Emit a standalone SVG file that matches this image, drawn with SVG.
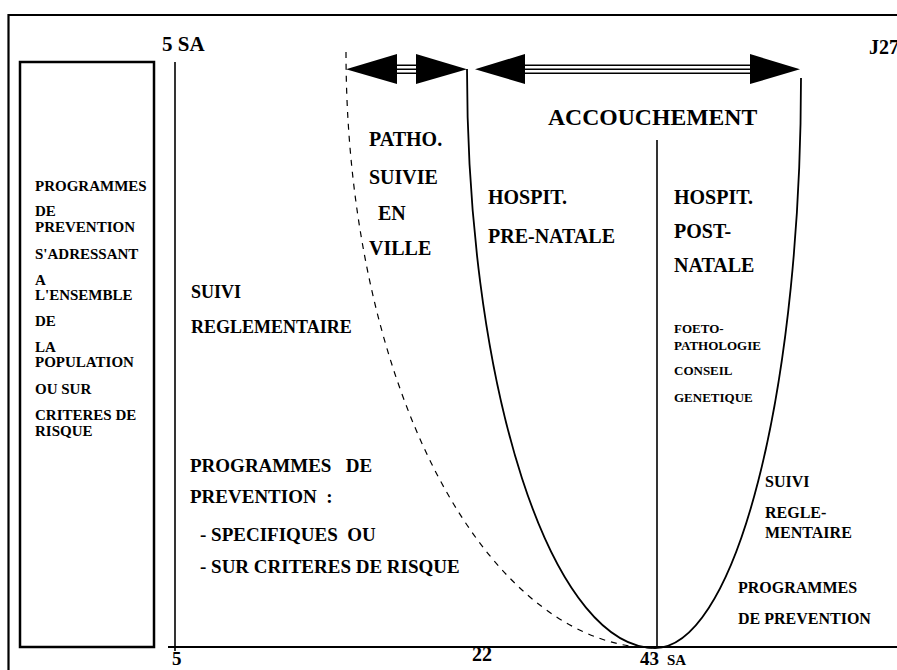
<svg xmlns="http://www.w3.org/2000/svg" width="897" height="670" viewBox="0 0 897 670">
<style>
text{font-family:"Liberation Serif","Times New Roman",serif;font-weight:bold;fill:#000}
.t20{font-size:20px}.t19{font-size:19px}.t18{font-size:18px}.t16{font-size:16px}.t15{font-size:15px}.t13{font-size:13px}
.ln{fill:none;stroke:#000}
</style>
<rect width="897" height="670" fill="#fff"/>
<g id="frame">
<path class="ln" d="M8.5,670 V15 H897" stroke-width="2.2"/>
</g>
<g id="left-box">
<rect x="20" y="62" width="134" height="585" class="ln" stroke-width="2.5"/>
<text class="t15" x="35" y="191">PROGRAMMES</text>
<text class="t15" x="35" y="216">DE</text>
<text class="t15" x="35" y="232">PREVENTION</text>
<text class="t15" x="35" y="259">S'ADRESSANT</text>
<text class="t15" x="35" y="285">A</text>
<text class="t15" x="35" y="300">L'ENSEMBLE</text>
<text class="t15" x="35" y="326">DE</text>
<text class="t15" x="35" y="352">LA</text>
<text class="t15" x="35" y="367">POPULATION</text>
<text class="t15" x="35" y="394">OU SUR</text>
<text class="t15" x="35" y="420">CRITERES DE</text>
<text class="t15" x="35" y="436">RISQUE</text>
</g>
<g id="axes">
<line class="ln" x1="175" y1="62" x2="175" y2="651" stroke-width="1.6"/>
<line class="ln" x1="168" y1="647" x2="897" y2="647" stroke-width="2"/>
<text x="162" y="51" font-size="21px">5 SA</text>
<text x="869" y="54" class="t20">J27</text>
<text x="172" y="665" font-size="19px">5</text>
<text x="472" y="661" class="t20">22</text>
<text x="640" y="665" font-size="19px">43</text>
<text x="667" y="665" font-size="15px">SA</text>
</g>
<g id="connectors">
<path class="ln" d="M346,52 A309,596 0 0,0 655,648" stroke-width="1.2" stroke-dasharray="6,6"/>
<path class="ln" d="M467,69 A188,579 0 0,0 655,648" stroke-width="1.8"/>
<path class="ln" d="M655,648 A146,570 0 0,0 801,78" stroke-width="1.8"/>
<line class="ln" x1="657" y1="140" x2="657" y2="648" stroke-width="1.6"/>
<g id="arrow-patho">
<path d="M396,65.3H417M396,69.3H417M396,73.3H417" class="ln" stroke-width="1.6"/>
<polygon points="346,69.3 397,54 397,84"/>
<polygon points="467,69.3 416,54 416,84"/>
</g>
<g id="arrow-hospit">
<path d="M524,65.3H751M524,69.3H751M524,73.3H751" class="ln" stroke-width="1.6"/>
<polygon points="475,69.3 525,54 525,84"/>
<polygon points="800,69.3 750,54 750,84"/>
</g>
</g>
<g id="accouchement">
<text x="548" y="125" font-size="23.7px">ACCOUCHEMENT</text>
</g>
<g id="patho-ville">
<text class="t20" x="369" y="146">PATHO.</text>
<text class="t20" x="369" y="184">SUIVIE</text>
<text class="t20" x="378" y="220">EN</text>
<text class="t20" x="369" y="255">VILLE</text>
</g>
<g id="suivi-reglementaire">
<text class="t18" x="191" y="298">SUIVI</text>
<text class="t18" x="191" y="333">REGLEMENTAIRE</text>
</g>
<g id="programmes-specifiques">
<text class="t19" x="190" y="472" xml:space="preserve">PROGRAMMES   DE</text>
<text class="t19" x="190" y="503" xml:space="preserve">PREVENTION  :</text>
<text class="t19" x="200" y="541" xml:space="preserve">- SPECIFIQUES  OU</text>
<text class="t19" x="200" y="573">- SUR CRITERES DE RISQUE</text>
</g>
<g id="hospit-prenatale">
<text class="t20" x="488" y="204">HOSPIT.</text>
<text class="t20" x="488" y="243">PRE-NATALE</text>
</g>
<g id="hospit-postnatale">
<text class="t20" x="674" y="204">HOSPIT.</text>
<text class="t20" x="674" y="238">POST-</text>
<text class="t20" x="674" y="272">NATALE</text>
<text class="t13" x="674" y="333">FOETO-</text>
<text class="t13" x="674" y="350">PATHOLOGIE</text>
<text class="t13" x="674" y="375">CONSEIL</text>
<text class="t13" x="674" y="402">GENETIQUE</text>
</g>
<g id="suivi-post">
<text class="t16" x="765" y="487">SUIVI</text>
<text class="t16" x="765" y="518">REGLE-</text>
<text class="t16" x="765" y="538">MENTAIRE</text>
</g>
<g id="programmes-post">
<text class="t16" x="738" y="593">PROGRAMMES</text>
<text class="t16" x="738" y="624">DE PREVENTION</text>
</g>
</svg>
